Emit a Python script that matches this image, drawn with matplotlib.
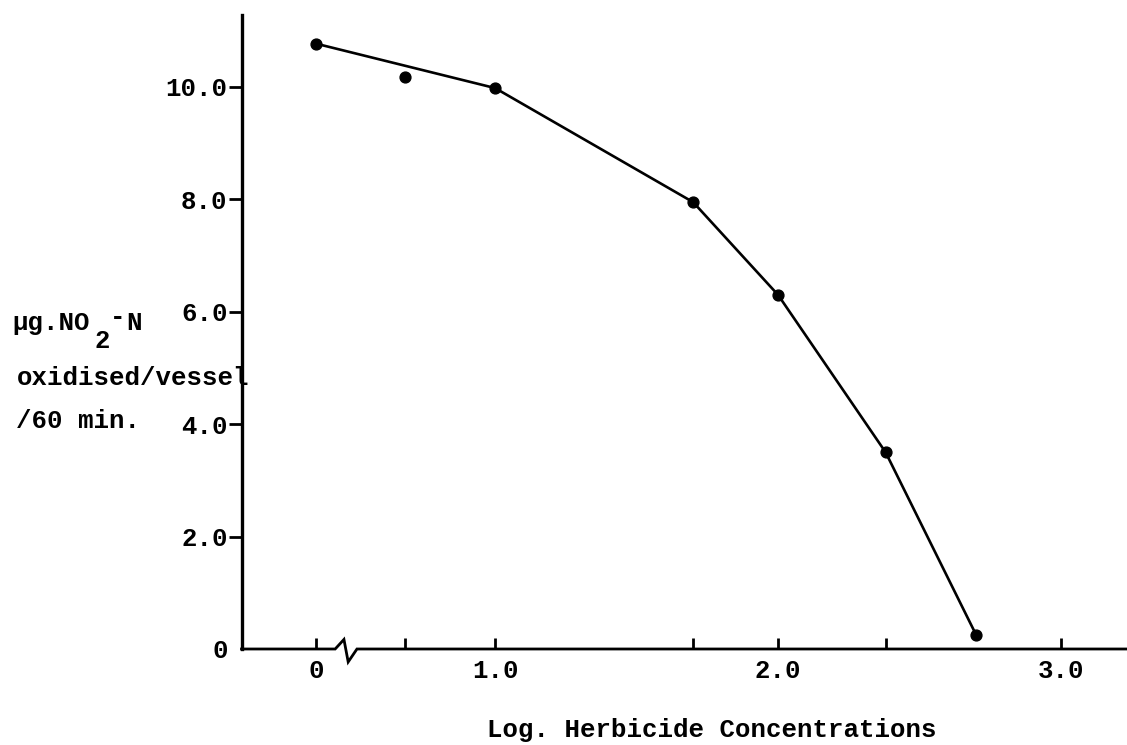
import matplotlib
matplotlib.use("Agg")
import matplotlib.pyplot as plt

# ---- data ----
control_label = "0"
control_value = 10.77
log_conc = [0.68, 1.0, 1.70, 2.0, 2.38, 2.70]
no2_oxidised = [10.18, 9.98, 7.95, 6.30, 3.50, 0.25]
on_curve = [False, True, True, True, True, True]

x_major_ticks = [1.0, 2.0, 3.0]
x_major_labels = ["1.0", "2.0", "3.0"]
x_minor_ticks = [0.68, 1.70, 2.38]
y_ticks = [0, 2, 4, 6, 8, 10]
y_tick_labels = ["0", "2.0", "4.0", "6.0", "8.0", "10.0"]

x_label = "Log. Herbicide Concentrations"
y_label_lines = ["oxidised/vessel", "/60 min."]

# ---- layout ----
W, H = 1127, 745
control_x = 0.3675
xmin, xmax = 0.104, 3.233
ymin, ymax = 0.0, 11.28

plt.rcParams["font.family"] = ["Liberation Mono", "DejaVu Sans Mono"]
plt.rcParams["font.weight"] = "bold"
FS = 18.5

fig = plt.figure(figsize=(W / 100, H / 100), dpi=100)
fig.patch.set_facecolor("white")
ax = fig.add_axes([241.5 / W, (H - 649) / H, 1 - 241.5 / W, (649 - 15) / H])
ax.set_xlim(xmin, xmax)
ax.set_ylim(ymin, ymax)

for s in ("top", "right", "bottom"):
    ax.spines[s].set_visible(False)
ax.spines["left"].set_linewidth(2.4)

# x axis line with break symbol
bx = [xmin, 0.435, 0.466, 0.481, 0.512, xmax]
by = [0, 0, 0.17, -0.23, 0, 0]
ax.plot(bx, by, color="black", lw=2.0, clip_on=False, solid_joinstyle="miter")

# curve
cx = [control_x] + [x for x, c in zip(log_conc, on_curve) if c]
cy = [control_value] + [y for y, c in zip(no2_oxidised, on_curve) if c]
ax.plot(cx, cy, color="black", lw=1.9, zorder=3)
ax.plot([control_x] + log_conc, [control_value] + no2_oxidised, "o",
        color="black", ms=7.8, zorder=4, clip_on=False)

# ticks
ax.set_xticks([control_x] + x_major_ticks, [control_label] + x_major_labels)
ax.set_xticks(x_minor_ticks, minor=True)
ax.tick_params(axis="x", which="both", direction="in", length=8, width=2,
               pad=7, labelsize=FS)
ax.set_yticks(y_ticks, y_tick_labels)
ax.tick_params(axis="y", direction="out", length=9.5, width=2, pad=0.5,
               labelsize=FS)
ax.yaxis.get_major_ticks()[0].tick1line.set_visible(False)


def px(x, y):
    return x / W, 1 - y / H


# y label (typewriter style with sub/superscript)
fig.text(*px(12, 330), "\u00b5g.NO", fontsize=FS, ha="left", va="baseline")
fig.text(*px(94, 348), "2", fontsize=FS, ha="left", va="baseline")
fig.text(*px(110, 324), "-", fontsize=FS, ha="left", va="baseline")
fig.text(*px(126, 330), "N", fontsize=FS, ha="left", va="baseline")
fig.text(*px(17, 385), y_label_lines[0], fontsize=FS, ha="left", va="baseline")
fig.text(*px(16, 428), y_label_lines[1], fontsize=FS, ha="left", va="baseline")

# x label
fig.text(*px(712, 737), x_label, fontsize=FS, ha="center", va="baseline")

fig.savefig("out.png", dpi=100, facecolor="white")
